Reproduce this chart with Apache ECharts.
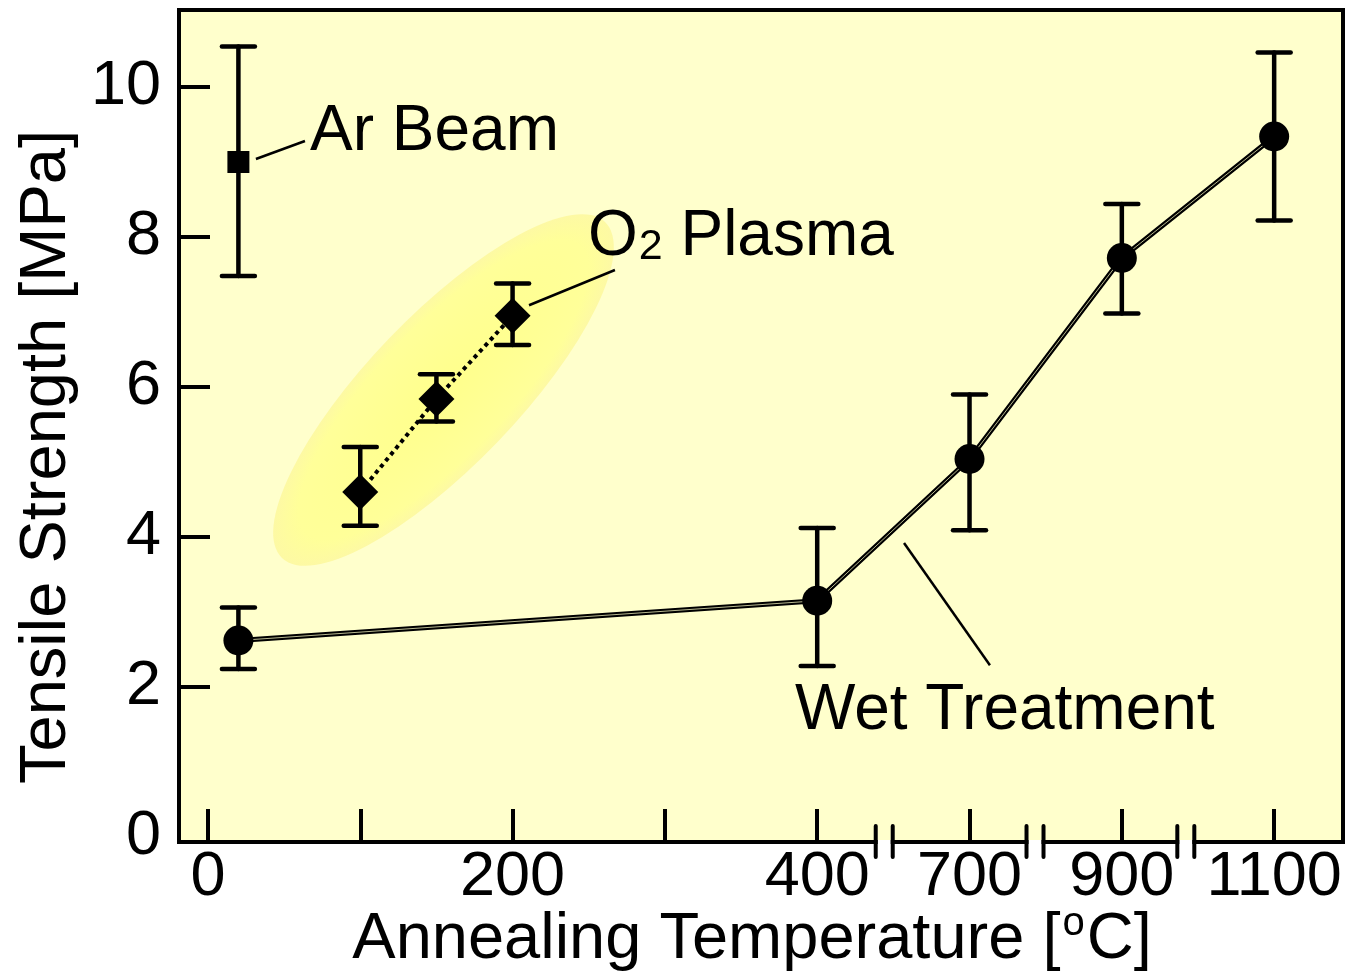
<!DOCTYPE html>
<html><head><meta charset="utf-8">
<script src="https://cdn.jsdelivr.net/npm/echarts@6/dist/echarts.min.js"></script>
<style>html,body{margin:0;padding:0;background:#fff}#c{width:1348px;height:979px}</style>
</head><body><div id="c"></div>
<script>
// ---------- data ----------
const arTemp = [20];
const arStrength = [9.0];
const arLow = [7.48];
const arHigh = [10.54];

const o2Temp = [100, 150, 200];
const o2Strength = [4.60, 5.84, 6.95];
const o2Low = [4.15, 5.54, 6.56];
const o2High = [5.20, 6.17, 7.38];

const wetTemp = [20, 400, 700, 900, 1100];
const wetStrength = [2.62, 3.15, 5.04, 7.72, 9.34];
const wetLow = [2.24, 2.28, 4.09, 6.98, 8.22];
const wetHigh = [3.06, 4.12, 5.90, 8.44, 10.46];

const xTickTemps = [0, 100, 200, 300, 400, 700, 900, 1100];
const xTickLabels = ['0', '', '200', '', '400', '700', '900', '1100'];
const yTickValues = [2, 4, 6, 8, 10];
const yLabelValues = [0, 2, 4, 6, 8, 10];
const breakTemps = [532, 786, 984];

// annotation anchors (temperature, MPa)
const arNote = {at: [67, 9.39], line: [[31.5, 9.04], [63.7, 9.28]]};
const o2Note = {at: [249.5, 8.0], line: [[210.8, 7.09], [267.2, 7.56]]};
const wetNote = {at: [385.4, 1.67], line: [[571, 3.92], [726.8, 2.29]]};
const o2Highlight = {from: [48.6, 3.72], to: [260.7, 8.2]};

// ---------- broken temperature scale ----------
const segT = [0, 400, 700, 900, 1100];
const segU = [0, 4, 5, 6, 7];
function tempToU(t) {
  if (t <= 400) return t / 100;
  for (let i = 1; i < segT.length - 1; i++) {
    if (t <= segT[i + 1]) return segU[i] + (t - segT[i]) / (segT[i + 1] - segT[i]) * (segU[i + 1] - segU[i]);
  }
  return 7 + (t - 1100) / 200;
}
const xTickU = xTickTemps.map(tempToU);

const FONT = '"Liberation Sans", Arial, sans-serif';
const FS_TICK = 63;
const FS_TITLE = 65;
const FS_NOTE = 64;

function errorBars(temps, lows, highs) {
  return {
    type: 'custom', z: 3, clip: false, silent: true,
    encode: {x: 0, y: [1, 2]},
    data: temps.map((t, i) => [tempToU(t), lows[i], highs[i]]),
    renderItem: (params, api) => {
      const x = api.value(0);
      const lo = api.coord([x, api.value(1)]);
      const hi = api.coord([x, api.value(2)]);
      const hw = 16.5;
      const st = {stroke: '#000', lineWidth: 4.5, lineCap: 'round'};
      return {type: 'group', children: [
        {type: 'line', shape: {x1: lo[0], y1: lo[1], x2: hi[0], y2: hi[1]}, style: st},
        {type: 'line', shape: {x1: lo[0] - hw, y1: lo[1], x2: lo[0] + hw, y2: lo[1]}, style: st},
        {type: 'line', shape: {x1: hi[0] - hw, y1: hi[1], x2: hi[0] + hw, y2: hi[1]}, style: st}
      ]};
    }
  };
}

function pt(p, api) { return api.coord([tempToU(p[0]), p[1]]); }

const chart = echarts.init(document.getElementById('c'), null, {renderer: 'canvas'});
chart.setOption({
  animation: false,
  backgroundColor: '#ffffff',
  grid: {
    left: 179, right: 5, top: 10, bottom: 137,
    show: true, backgroundColor: '#ffffcc', borderColor: '#000', borderWidth: 4,
    containLabel: false, outerBoundsMode: 'none'
  },
  xAxis: {
    type: 'value', min: -0.19, max: 7.452,
    splitLine: {show: false},
    axisLine: {show: true, onZero: false, lineStyle: {color: '#000', width: 4}},
    axisTick: {show: true, inside: true, length: 33, lineStyle: {color: '#000', width: 4}, customValues: xTickU},
    axisLabel: {
      show: true, margin: 4, color: '#000', fontSize: FS_TICK, fontFamily: FONT,
      customValues: xTickU,
      formatter: v => { const i = xTickU.findIndex(u => Math.abs(u - v) < 1e-6); return i >= 0 ? xTickLabels[i] : ''; }
    }
  },
  yAxis: {
    type: 'value', min: -0.067, max: 11.027,
    splitLine: {show: false},
    axisLine: {show: true, onZero: false, lineStyle: {color: '#000', width: 4}},
    axisTick: {show: true, inside: true, length: 31, lineStyle: {color: '#000', width: 4}, customValues: yTickValues},
    axisLabel: {show: true, margin: 18, color: '#000', fontSize: FS_TICK, fontFamily: FONT, customValues: yLabelValues,
      formatter: v => String(Math.round(v))}
  },
  graphic: [
    {type: 'text', x: 47, y: 457, rotation: Math.PI / 2, z: 10,
      style: {text: 'Tensile Strength [MPa]', fontSize: FS_TITLE, fontFamily: FONT, fill: '#000', align: 'center', verticalAlign: 'middle'}},
    {type: 'text', x: 752, y: 940, z: 10,
      style: {text: '{t|Annealing Temperature [}{s|o}{t|C]}', align: 'center', verticalAlign: 'middle', fill: '#000',
        rich: {t: {fontSize: FS_TITLE, fontFamily: FONT, fill: '#000', lineHeight: 72},
               s: {fontSize: 40, fontFamily: FONT, fill: '#000', verticalAlign: 'top', lineHeight: 72, padding: [0, 2, 20, 2]}}}}
  ],
  series: [
    { // highlight ellipse behind the O2 plasma points
      type: 'custom', z: 1, clip: false, silent: true,
      data: [[0, 0]],
      renderItem: (params, api) => {
        const p1 = pt(o2Highlight.from, api), p2 = pt(o2Highlight.to, api);
        const cx = (p1[0] + p2[0]) / 2, cy = (p1[1] + p2[1]) / 2;
        const dx = p2[0] - p1[0], dy = p2[1] - p1[1];
        const a = Math.hypot(dx, dy) / 2, b = 75;
        return {type: 'circle', x: cx, y: cy, rotation: Math.atan2(-dy, dx), scaleX: a / 100, scaleY: b / 100,
          shape: {cx: 0, cy: 0, r: 100},
          style: {fill: {type: 'radial', x: 0.5, y: 0.5, r: 0.5, colorStops: [
            {offset: 0, color: '#ffff8c'}, {offset: 0.85, color: '#ffff99'}, {offset: 1, color: '#fdf9a4'}]}}};
      }
    },
    {type: 'line', z: 2, symbol: 'none', silent: true,
      data: wetTemp.map((t, i) => [tempToU(t), wetStrength[i]]),
      lineStyle: {color: '#000', width: 5, opacity: 1}},
    {type: 'line', z: 2, symbol: 'none', silent: true,
      data: wetTemp.map((t, i) => [tempToU(t), wetStrength[i]]),
      lineStyle: {color: '#b8b890', width: 1, opacity: 1}},
    {type: 'line', z: 2, symbol: 'none', silent: true,
      data: o2Temp.map((t, i) => [tempToU(t), o2Strength[i]]),
      lineStyle: {color: '#000', width: 4, type: [4, 4], opacity: 1}},
    errorBars(wetTemp, wetLow, wetHigh),
    errorBars(o2Temp, o2Low, o2High),
    errorBars(arTemp, arLow, arHigh),
    {type: 'scatter', z: 4, symbol: 'circle', symbolSize: 30, itemStyle: {color: '#000', opacity: 1},
      data: wetTemp.map((t, i) => [tempToU(t), wetStrength[i]])},
    {type: 'scatter', z: 4, symbol: 'diamond', symbolSize: 36, itemStyle: {color: '#000', opacity: 1},
      data: o2Temp.map((t, i) => [tempToU(t), o2Strength[i]])},
    {type: 'scatter', z: 4, symbol: 'rect', symbolSize: 22, itemStyle: {color: '#000', opacity: 1},
      data: arTemp.map((t, i) => [tempToU(t), arStrength[i]])},
    { // annotations
      type: 'custom', z: 5, clip: false, silent: true,
      data: [[0, 0]],
      renderItem: (params, api) => {
        const children = [];
        [arNote, o2Note, wetNote].forEach(n => {
          const a = pt(n.line[0], api), b = pt(n.line[1], api);
          children.push({type: 'line', shape: {x1: a[0], y1: a[1], x2: b[0], y2: b[1]}, style: {stroke: '#000', lineWidth: 2.5}});
        });
        const ap = pt(arNote.at, api), op = pt(o2Note.at, api), wp = pt(wetNote.at, api);
        children.push({type: 'text', x: ap[0], y: ap[1], style: {text: 'Ar Beam', fontSize: FS_NOTE, fontFamily: FONT, fill: '#000', align: 'left', verticalAlign: 'middle'}});
        children.push({type: 'text', x: wp[0], y: wp[1], style: {text: 'Wet Treatment', fontSize: FS_NOTE, fontFamily: FONT, fill: '#000', align: 'left', verticalAlign: 'middle'}});
        children.push({type: 'text', x: op[0], y: op[1], style: {text: '{m|O}{s|2}{m| Plasma}', align: 'left', verticalAlign: 'middle', fill: '#000',
          rich: {m: {fontSize: FS_NOTE, fontFamily: FONT, fill: '#000', lineHeight: 72},
                 s: {fontSize: 43, fontFamily: FONT, fill: '#000', lineHeight: 72, verticalAlign: 'bottom', padding: [0, 0, 4, 1]}}}});
        return {type: 'group', children};
      }
    },
    { // axis break marks
      type: 'custom', z: 6, clip: false, silent: true,
      data: breakTemps.map(t => [tempToU(t), -0.067]),
      encode: {x: 0, y: 1},
      renderItem: (params, api) => {
        const p = api.coord([api.value(0), api.value(1)]);
        const g = 8.5;
        const st = {stroke: '#000', lineWidth: 4, lineCap: 'round'};
        return {type: 'group', children: [
          {type: 'rect', shape: {x: p[0] - g + 2, y: p[1] - 2, width: 2 * g - 4, height: 5}, style: {fill: '#fff'}},
          {type: 'line', shape: {x1: p[0] - g, y1: p[1] - 16, x2: p[0] - g, y2: p[1] + 15}, style: st},
          {type: 'line', shape: {x1: p[0] + g, y1: p[1] - 16, x2: p[0] + g, y2: p[1] + 15}, style: st}
        ]};
      }
    }
  ]
});
</script></body></html>
